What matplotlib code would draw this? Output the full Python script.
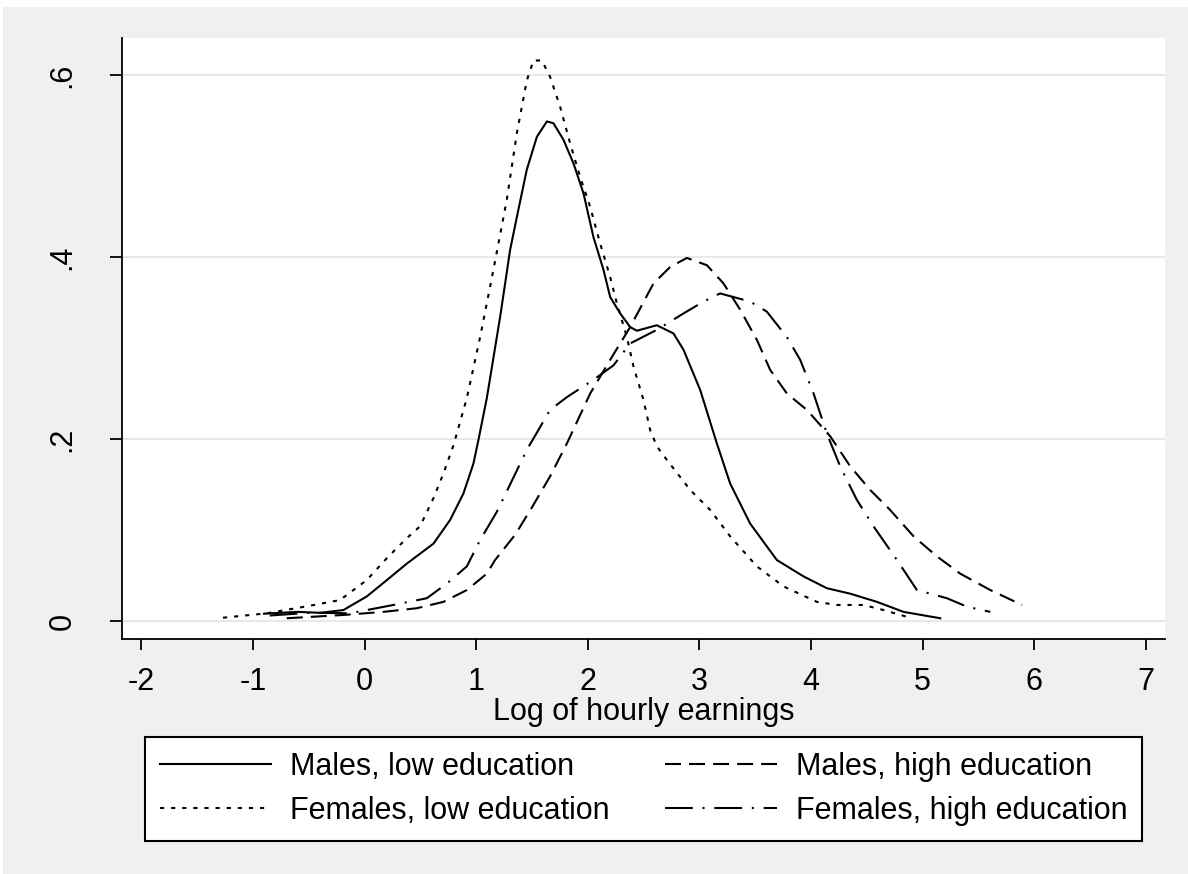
import matplotlib
matplotlib.use("Agg")
import matplotlib.pyplot as plt
from matplotlib.patches import Rectangle

plt.rcParams['font.family'] = ['Liberation Sans', 'DejaVu Sans']
plt.rcParams['lines.scale_dashes'] = False
plt.rcParams['axes.unicode_minus'] = False

# Males, low education (solid)
ml_x = [-0.9, -0.6, -0.4, -0.19, 0.02, 0.2, 0.378, 0.617, 0.766, 0.885, 0.975, 1.02,
        1.095, 1.214, 1.304, 1.364, 1.453, 1.543, 1.633, 1.692, 1.781, 1.871, 1.961,
        2.05, 2.14, 2.2, 2.29, 2.379, 2.439, 2.558, 2.618, 2.767, 2.857, 3.006, 3.156,
        3.275, 3.454, 3.693, 3.932, 4.141, 4.35, 4.59, 4.828, 5.157]
ml_y = [0.008, 0.01, 0.009, 0.012, 0.027, 0.045, 0.063, 0.085, 0.111, 0.14, 0.173, 0.199,
        0.245, 0.334, 0.408, 0.444, 0.496, 0.532, 0.549, 0.547, 0.529, 0.503, 0.47,
        0.422, 0.386, 0.356, 0.338, 0.323, 0.319, 0.323, 0.325, 0.316, 0.298, 0.254, 0.195,
        0.151, 0.107, 0.067, 0.049, 0.036, 0.03, 0.021, 0.010, 0.003]

# Females, low education (dotted)
fl_x = [-1.268, -0.876, -0.488, -0.22, 0.02, 0.199, 0.378, 0.497, 0.617, 0.706, 0.796,
        0.916, 1.035, 1.154, 1.274, 1.364, 1.453, 1.513, 1.588, 1.662, 1.752, 1.841, 1.931,
        2.021, 2.11, 2.2, 2.26, 2.35, 2.41, 2.498, 2.558, 2.618, 2.708, 2.917, 3.096,
        3.275, 3.514, 3.753, 4.052, 4.231, 4.47, 4.649, 4.903]
fl_y = [0.0036, 0.0084, 0.0168, 0.023, 0.045, 0.069, 0.091, 0.104, 0.135, 0.162, 0.193,
        0.245, 0.312, 0.386, 0.463, 0.536, 0.594, 0.616, 0.616, 0.598, 0.565, 0.525, 0.488,
        0.455, 0.415, 0.378, 0.349, 0.312, 0.279, 0.243, 0.21, 0.192, 0.177, 0.144, 0.122,
        0.093, 0.060, 0.038, 0.021, 0.0176, 0.0176, 0.012, 0.003]

# Males, high education (dashed)
mh_x = [-0.697, -0.19, 0.168, 0.467, 0.706, 0.916, 1.095, 1.169, 1.35, 1.5, 1.662, 1.812,
        2.021, 2.2, 2.379, 2.588, 2.737, 2.887, 3.066, 3.215, 3.365, 3.514, 3.633, 3.783,
        3.962, 4.171, 4.35, 4.529, 4.708, 4.918, 5.127, 5.336, 5.605, 5.889]
mh_y = [0.003, 0.0066, 0.010, 0.014, 0.021, 0.034, 0.052, 0.067, 0.095, 0.125, 0.159, 0.195,
        0.25, 0.287, 0.323, 0.371, 0.389, 0.399, 0.391, 0.371, 0.342, 0.309, 0.276, 0.25,
        0.232, 0.203, 0.17, 0.144, 0.122, 0.093, 0.071, 0.052, 0.034, 0.0176]

# Females, high education (dash-dot)
fh_x = [-0.85, -0.5, -0.13, 0.258, 0.557, 0.736, 0.916, 1.035, 1.185, 1.453, 1.662, 1.812,
        2.05, 2.23, 2.379, 2.618, 2.857, 3.036, 3.185, 3.335, 3.454, 3.603, 3.783, 3.902,
        4.022, 4.141, 4.26, 4.41, 4.559, 4.769, 4.948, 5.217, 5.396, 5.605]
fh_y = [0.006, 0.009, 0.0085, 0.0176, 0.025, 0.041, 0.06, 0.089, 0.12, 0.188, 0.232, 0.246,
        0.265, 0.281, 0.305, 0.32, 0.338, 0.351, 0.36, 0.355, 0.351, 0.34, 0.312, 0.287,
        0.25, 0.206, 0.17, 0.133, 0.104, 0.067, 0.034, 0.025, 0.0157, 0.010]

labels = ["Males, low education", "Females, low education",
          "Males, high education", "Females, high education"]
xticks = [-2, -1, 0, 1, 2, 3, 4, 5, 6, 7]
yticks = [0, 0.2, 0.4, 0.6]
yticklabels = ["0", ".2", ".4", ".6"]

W, H = 1188, 874
fs = 22
fig = plt.figure(figsize=(W / 100, H / 100), dpi=100, facecolor='white')
fig.patches.append(Rectangle((3 / W, 0), 1, 1 - 7 / H, transform=fig.transFigure,
                             facecolor='#f0f0f0', edgecolor='none', zorder=-10))

ax = fig.add_axes([122 / W, 1 - 639 / H, (1165 - 122) / W, (639 - 38) / H])
ax.set_facecolor('white')

lw = 1.5
h1, = ax.plot(ml_x, ml_y, color='black', lw=lw, ls='-')
h2, = ax.plot(fl_x, fl_y, color='black', lw=lw, ls=(0, (3, 5)))
h3, = ax.plot(mh_x, mh_y, color='black', lw=lw, ls=(0, (11.5, 5.8)))
h4, = ax.plot(fh_x, fh_y, color='black', lw=lw, ls=(0, (20, 7, 1.5, 7)))

ax.set_xlim(-2.173, 7.17)
ax.set_ylim(-0.0198, 0.6407)

ax.set_xticks(xticks)
ax.set_yticks(yticks)
ax.set_yticklabels(yticklabels, rotation=90, va='center')
ax.grid(axis='y', color='#e8e8e8', lw=1.5)
ax.set_axisbelow(True)

for s in ['top', 'right']:
    ax.spines[s].set_visible(False)
for s in ['left', 'bottom']:
    ax.spines[s].set_linewidth(1.3)

ax.tick_params(axis='x', length=8, width=1.3, pad=12, labelsize=fs)
ax.tick_params(axis='y', length=9, width=1.3, pad=23, labelsize=fs)

ax.set_xlabel("Log of hourly earnings", fontsize=fs, labelpad=0)

leg = fig.legend([h1, h2, h3, h4], labels, ncol=2, loc='upper center',
                 bbox_to_anchor=(643.5 / W, 1 - 737 / H),
                 borderaxespad=0, fontsize=fs, handlelength=3.66,
                 handletextpad=0.62, labelspacing=0.47, borderpad=0.48,
                 fancybox=False, framealpha=1, edgecolor='black', columnspacing=1.8)
leg.get_frame().set_linewidth(1.5)

fig.savefig("out.png", dpi=100, facecolor=fig.get_facecolor())
